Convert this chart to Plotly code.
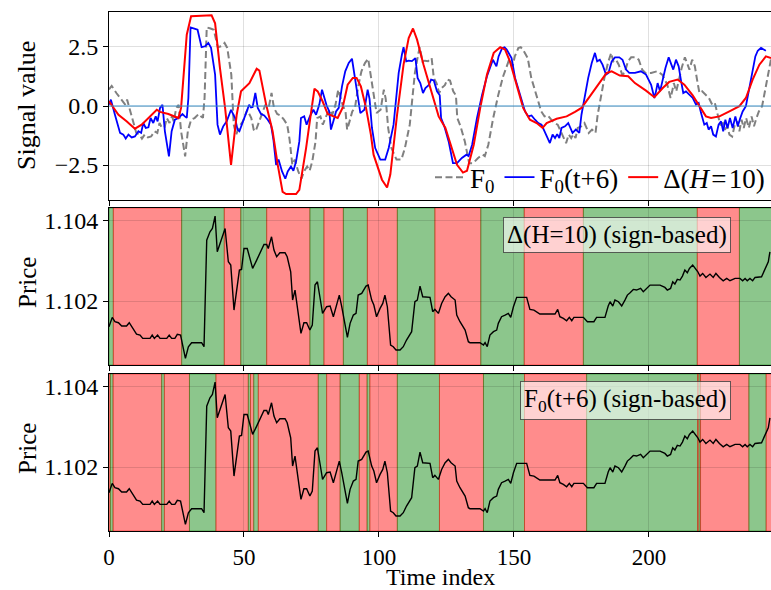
import plotly.graph_objects as go
from plotly.subplots import make_subplots

# ---------------- data ----------------
# Delta(H=10) signal (red)
DELTA_T = [0, 3.5, 6.5, 9.6, 12.1, 14.6, 17.7, 18.9, 22, 25.7, 26.7, 28.8, 30.4, 38, 39.3, 41.1, 43, 45.2, 47.3,
           48.9, 52, 54.7, 55.7, 58.2, 60.6, 62.5, 64.3, 65.6, 69.3, 70.5, 73, 74.8, 76.1, 77.3, 79.1, 81, 82.8,
           84.7, 86.5, 88.4, 90.3, 91.7, 93.3, 95.2, 97, 98, 101.1, 103, 104.2, 106.7, 109.1, 111, 112.6, 114.1,
           116.5, 120.3, 122.1, 124.6, 127, 128.9, 131.1, 132.6, 135.1, 137.5, 140, 142.5, 144.9, 146.7, 148.5,
           151, 153.4, 155.9, 158.4, 160.6, 162.1, 165.8, 169.5, 172.6, 175, 178.1, 181.8, 184.3, 186.2, 189.2,
           192.3, 194.8, 198.9, 202, 205.1, 207.5, 210.6, 213.1, 216.2, 218.7, 221.1, 223, 226.1, 229.8, 233.5,
           235.9, 238.4, 240.9, 243.3, 245.2]
DELTA_V = [0.2, -0.37, -0.65, -0.96, -0.79, -0.51, -0.16, -0.25, -0.34, -0.51, -0.08, 3.02, 3.8, 3.84, 3.5, 1.6,
           -0.08, -2.49, -0.37, 0.62, 0.97, 1.58, 1.5, 0.06, -1.07, -2.49, -3.64, -3.73, -3.73, -3.55, -1.78, -0.3,
           0.73, 0.62, 0.2, -0.34, -0.44, -0.51, -0.08, 0.9, 1.19, 1.19, 0.83, -0.08, -1.21, -2.06, -3.12, -3.45,
           -2.9, -0.37, 1.75, 2.88, 3.28, 2.81, 1.75, 0.2, -0.44, -0.93, -1.78, -2.49, -2.82, -2.74, -1.64, -0.08,
           1.33, 2.25, 2.49, 2.39, 1.89, 0.9, -0.08, -0.58, -0.72, -0.93, -0.72, -0.54, -0.44, -0.25, -0.08, 0.41,
           0.97, 1.4, 1.47, 1.29, 1.26, 0.97, 0.65, 0.37, 0.76, 1.02, 1.12, 0.9, 0.45, -0.01, -0.44, -0.51, -0.44,
           -0.23, -0.01, 0.34, 1.12, 1.75, 2.1, 2.03]

# F0 signal (grey dashed): values before t=6, then the rest of the series
F0_HEAD_T = [0, 1.0, 2.8, 4.7]
F0_HEAD_V = [0.7, 0.85, 0.54, 0.25]

# F0(t+6) (blue)
F06_T = [0, 0.7, 2.2, 4.1, 5.3, 6.2, 7.2, 8.4, 9.6, 10.9, 11.9, 12.7, 13.6, 14.6, 15.4, 16.4, 17.3, 18, 18.9,
         19.8, 20.7, 22.2, 23.2, 24.4, 25.7, 27.2, 28.1, 28.8, 29.4, 30.2, 31.6, 32.8, 34.3, 35.6, 36.8, 37.8,
         39.3, 40.2, 41.1, 42.3, 43.6, 45.2, 46.7, 47.6, 48.3, 49.5, 51.4, 51.9, 52.6, 53.2, 54.2, 55.1, 56.3,
         57.5, 58.8, 60, 60.9, 61.9, 62.8, 64.1, 65.3, 66.2, 67.4, 68.3, 69.3, 70.5, 71.1, 72.3, 73.2, 74.4,
         75.7, 76.7, 77.9, 78.9, 79.8, 80.6, 81.6, 82.2, 83.1, 84.1, 85.1, 86.3, 87.5, 88.8, 90, 90.9, 92.1,
         93.1, 94.6, 95.8, 96.5, 97.4, 98.6, 100.5, 102.3, 103.6, 105.4, 106.7, 107.3, 108.5, 109.1, 110.1,
         111, 112.2, 113.5, 114.3, 115.3, 116.3, 117.2, 118.4, 119.3, 120.3, 121.5, 122.5, 123, 124.2, 125.8,
         127.4, 128.9, 130.7, 132.4, 133.2, 134.5, 136.3, 138.2, 140, 142.2, 143.5, 144.3, 145.6, 146.5, 147.3,
         149.1, 150.4, 152.2, 154.1, 155.3, 156.5, 157.8, 159, 160.2, 161.5, 162.7, 163.3, 164.3, 165.2, 166,
         166.8, 167.6, 168.9, 170.1, 171, 171.7, 172.9, 174.2, 175, 176.3, 177.5, 178.8, 180, 180.8, 181.8,
         182.8, 184.1, 185, 186.2, 187.4, 189, 190.2, 191.5, 192.7, 194.8, 197, 198.9, 200.8, 202, 202.6,
         203.2, 204.1, 205.1, 206.1, 207.3, 208.2, 209, 210, 211, 211.9, 212.7, 213.7, 215, 216.2, 217.4,
         218.4, 219.3, 220.5, 221.4, 222.1, 223, 223.8, 224.8, 225.8, 226.7, 227.5, 228.3, 229.1, 230, 231,
         232, 232.9, 233.7, 234.7, 235.9, 237.2, 238.4, 239.4, 240.3, 241.5, 243.3]
F06_V = [0.06, 0.27, -0.37, -1.14, -1.21, -1.38, -1.21, -1.33, -1.29, -1.07, -1.14, -0.72, -0.93, -0.9, -0.51,
         -0.72, -0.44, -0.65, -0.08, 0.05, -1.07, -2.13, -1.07, -0.58, -0.51, -0.34, -0.44, -0.5, 0.34, 3.33,
         3.28, 3.23, 2.49, 2.53, 2.67, 2.46, 1.33, -0.79, -1.21, -0.86, -0.65, -0.16, -0.51, -1.0, -1.07, -0.72,
         -0.08, 0.05, -0.06, -0.04, 0.55, -0.08, -0.34, -0.4, -0.58, -0.79, -1.43, -2.49, -2.27, -2.77, -3.08,
         -2.77, -2.56, -2.74, -2.34, -1.5, -0.51, -0.44, -0.79, -0.44, -0.16, -0.37, 0.06, 0.69, 0.34, 0.02,
         -0.23, -1.0, -0.65, -0.23, -0.08, 0.83, 1.47, 1.82, 2.0, 1.33, 0.62, -0.3, -0.16, 0.69, 0.3, -0.93,
         -1.78, -2.27, -2.27, -1.78, -0.79, 0.62, 1.4, 2.18, 2.49, 1.89, 1.92, 1.9, 2.03, 1.19, 0.97, 0.55, 0.76,
         0.88, 1.12, 1.08, 0.62, 0.45, -0.51, -0.86, -1.5, -2.42, -2.42, -2.2, -2.06, -2.12, -1.64, -0.51, 0.48,
         1.26, 1.96, 1.68, 2.1, 2.45, 2.49, 2.39, 2.03, 1.19, 0.45, -0.23, -0.44, -0.4, -0.58, -0.72, -0.79,
         -1.14, -1.43, -1.57, -1.21, -1.36, -1.19, -1.36, -0.93, -0.86, -0.72, -0.93, -1.14, -1.0, -1.14, -0.37,
         0.48, 1.19, 1.82, 2.25, 1.89, 1.96, 1.75, 1.33, 1.4, 1.89, 2.06, 2.06, 1.96, 1.54, 1.4, 1.4, 1.47, 1.33,
         0.9, 0.34, 0.62, 0.97, 0.62, 1.12, 1.61, 2.06, 1.82, 1.54, 1.96, 1.68, 1.05, 0.55, 0.62, 0.48, 0.34,
         0.06, 0.13, -0.3, -0.79, -0.72, -1.0, -0.86, -1.21, -1.29, -0.79, -0.65, -1.07, -0.58, -0.93, -0.51,
         -0.93, -0.44, -0.86, -0.55, -0.23, -0.01, 0.76, 1.47, 2.1, 2.34, 2.46, 2.34]

# Price
PRICE_T = [0, 1.2, 2.2, 3.5, 4.7, 6.5, 7.5, 9, 10.2, 11.5, 12.5, 15.2, 16, 16.8, 18, 18.9, 21.4, 22.3, 23.2, 24.4,
           25.3, 26.5, 27.3, 28.3, 29.4, 30.6, 34.3, 35.2, 36.2, 37.4, 38.3, 39.3, 40.1, 41.4, 43, 44.2, 45.1,
           46.3, 47.3, 48.3, 49.1, 50, 51.2, 53.2, 54.7, 55.9, 57.4, 58.4, 59, 60.2, 61.1, 62.1, 63.3, 65.2, 66,
           67.3, 68, 68.9, 70.1, 71.1, 72.2, 73.2, 74.4, 75.3, 76.3, 77.2, 78.1, 79.1, 80.6, 81.9, 83.1, 84.1,
           85.3, 86.2, 87.4, 88.3, 89.3, 90.5, 91.5, 92.3, 93.6, 95.2, 96, 97.3, 98.1, 99.1, 100.4, 101.4, 102.2,
           103.1, 104.3, 105.3, 106.3, 107.8, 109, 110.2, 112.1, 113.3, 114.2, 115.2, 116.2, 118.9, 119.9, 120.7,
           122, 123.2, 124.5, 125.7, 126.7, 128.2, 128.8, 130, 131.9, 133.1, 133.7, 137.4, 138.7, 139.3, 140.1,
           141.1, 142.4, 143.6, 144.2, 145.4, 146.7, 147.9, 148.8, 149.8, 151, 154.7, 155.9, 157.4, 159.6, 165.2,
           166.2, 167, 168.3, 169.5, 170.5, 171.4, 172.2, 175.7, 177.2, 179.6, 180.6, 183.7, 184.9, 185.6, 186.6,
           187.4, 188.7, 189.9, 191.1, 192, 193, 194.2, 195.4, 196.9, 197.9, 199.1, 200.4, 204.1, 205.9, 206.8,
           208, 208.8, 209.6, 210.5, 211.5, 212.4, 213.3, 214.2, 215, 216.2, 217.1, 218.1, 218.9, 219.9, 221.1,
           222.6, 223.8, 224.8, 226.1, 227.5, 228.8, 230, 231.9, 233.7, 234.7, 235.6, 236.4, 237.4, 238.4, 239.3,
           241.7, 243, 244.2, 244.8]
PRICE_V = [1.101366, 1.101597, 1.10149, 1.101465, 1.101383, 1.101383, 1.101465, 1.101325, 1.101185, 1.10116,
           1.101078, 1.101078, 1.10116, 1.101078, 1.10116, 1.101078, 1.101078, 1.10116, 1.101078, 1.101078,
           1.101177, 1.10116, 1.100914, 1.100584, 1.100872, 1.100971, 1.100971, 1.100872, 1.103506, 1.103712,
           1.103794, 1.104099, 1.103218, 1.103465, 1.103794, 1.102971, 1.102889, 1.101778, 1.102313, 1.102765,
           1.102782, 1.1033, 1.1033, 1.102807, 1.103012, 1.103177, 1.103399, 1.103399, 1.1033, 1.103588,
           1.103259, 1.103095, 1.103193, 1.103193, 1.103095, 1.102724, 1.102025, 1.102272, 1.101613, 1.101202,
           1.101465, 1.101465, 1.101284, 1.101407, 1.102395, 1.102477, 1.102107, 1.101695, 1.10186, 1.101877,
           1.101613, 1.10186, 1.102148, 1.10186, 1.101407, 1.101103, 1.101449, 1.101654, 1.101695, 1.102148,
           1.102189, 1.10237, 1.102395, 1.102025, 1.101901, 1.101613, 1.101819, 1.101942, 1.102148, 1.10186,
           1.100914, 1.100872, 1.10079, 1.10079, 1.100872, 1.101037, 1.101243, 1.101984, 1.102025, 1.10237,
           1.102107, 1.102091, 1.101737, 1.101794, 1.101695, 1.101942, 1.102107, 1.102189, 1.102107, 1.102025,
           1.101654, 1.10149, 1.101284, 1.100996, 1.100971, 1.100971, 1.100914, 1.100971, 1.100872, 1.10116,
           1.101243, 1.101284, 1.101449, 1.101613, 1.101654, 1.101695, 1.101597, 1.10186, 1.102091, 1.102091,
           1.101794, 1.101778, 1.101679, 1.101679, 1.101794, 1.101613, 1.101572, 1.101514, 1.101597, 1.101514,
           1.101597, 1.101597, 1.10149, 1.10149, 1.101597, 1.101597, 1.101877, 1.101984, 1.101877, 1.102025,
           1.101984, 1.101877, 1.102025, 1.102148, 1.102206, 1.102288, 1.102272, 1.102313, 1.10223, 1.102313,
           1.102395, 1.102395, 1.102337, 1.102272, 1.102313, 1.102477, 1.10242, 1.102535, 1.102519, 1.102617,
           1.102765, 1.1027, 1.102807, 1.102889, 1.102807, 1.102724, 1.102617, 1.102683, 1.102584, 1.102667,
           1.102584, 1.102683, 1.102584, 1.102502, 1.10256, 1.102502, 1.10256, 1.10256, 1.102502, 1.10256,
           1.102502, 1.10256, 1.102502, 1.102584, 1.1026, 1.102807, 1.102971, 1.103218]

# sign-based regimes: (start, end, sign)
REGIME_DELTA_START = [0, 1.6, 26.9, 42.7, 48.8, 58.4, 74.4, 79.6, 86.8, 95.7, 106.8, 120.7, 137.7, 153.8, 175.7,
                      217.9, 233.5]
REGIME_DELTA_END = [1.6, 26.9, 42.7, 48.8, 58.4, 74.4, 79.6, 86.8, 95.7, 106.8, 120.7, 137.7, 153.8, 175.7,
                    217.9, 233.5, 246]
REGIME_DELTA_SIGN = [1, -1, 1, -1, 1, -1, 1, -1, 1, -1, 1, -1, 1, -1, 1, -1, 1]

REGIME_F06_START = [0, 0.5, 1.5, 19.5, 20.5, 29.8, 39.6, 51.6, 52.4, 53.6, 55.3, 77.5, 80.6, 85.6, 92.7, 95.6,
                    96.6, 106.8, 122.4, 138.7, 153.9, 176.9, 218.0, 218.5, 219.1, 237.0, 243.4]
REGIME_F06_END = [0.5, 1.5, 19.5, 20.5, 29.8, 39.6, 51.6, 52.4, 53.6, 55.3, 77.5, 80.6, 85.6, 92.7, 95.6, 96.6,
                  106.8, 122.4, 138.7, 153.9, 176.9, 218.0, 218.5, 219.1, 237.0, 243.4, 246]
REGIME_F06_SIGN = [-1, 1, -1, 1, -1, 1, -1, 1, -1, 1, -1, 1, -1, 1, -1, 1, -1, 1, -1, 1, -1, 1, -1, 1, -1, 1, -1]

X_TICKS = [0, 50, 100, 150, 200]
SIG_TICKS = [-2.5, 0.0, 2.5]
SIG_TICK_TEXT = ["\u22122.5", "0.0", "2.5"]
PRICE_TICKS = [1.102, 1.104]
PRICE_TICK_TEXT = ["1.102", "1.104"]

LAG = 6
F0_T = F0_HEAD_T + [t + LAG for t in F06_T]
F0_V = F0_HEAD_V + F06_V

# ---------------- figure ----------------
FONT = "Liberation Serif, Times New Roman, DejaVu Serif, serif"
W, H = 771, 590
L, R, T, B = 109, 0, 12, 59
PH = H - T - B


def dom(top_px, bot_px):
    return [(H - B - bot_px) / PH, (H - B - top_px) / PH]


fig = make_subplots(rows=3, cols=1, shared_xaxes=True)

fig.add_trace(go.Scatter(x=F0_T, y=F0_V, mode="lines", name="F<sub>0</sub>",
                         line=dict(color="#808080", width=2, dash="7px,3.5px")), row=1, col=1)
fig.add_trace(go.Scatter(x=F06_T, y=F06_V, mode="lines", name="F<sub>0</sub>(t+6)",
                         line=dict(color="#0000ff", width=1.8)), row=1, col=1)
fig.add_trace(go.Scatter(x=DELTA_T, y=DELTA_V, mode="lines", name="\u0394(<i>H</i>\u200a=\u200a10)",
                         line=dict(color="#ff0000", width=2)), row=1, col=1)

for r in (2, 3):
    fig.add_trace(go.Scatter(x=PRICE_T, y=PRICE_V, mode="lines", showlegend=False,
                             line=dict(color="black", width=1.4)), row=r, col=1)

GREEN = "rgba(0,128,0,0.45)"
RED = "rgba(255,0,0,0.45)"
for starts, ends, signs, ax in ((REGIME_DELTA_START, REGIME_DELTA_END, REGIME_DELTA_SIGN, "2"),
                                (REGIME_F06_START, REGIME_F06_END, REGIME_F06_SIGN, "3")):
    for s, e, g in zip(starts, ends, signs):
        c = GREEN if g > 0 else RED
        fig.add_shape(type="rect", xref="x" + ax, yref="y" + ax + " domain", x0=s, x1=e, y0=0, y1=1,
                      fillcolor=c, line=dict(color=c, width=1), layer="below")

# zero line on signal panel
fig.add_shape(type="line", xref="x domain", yref="y", x0=0, x1=1, y0=0, y1=0,
              line=dict(color="#3b8fc7", width=1.2), layer="above")

axis_common = dict(showline=True, linecolor="black", linewidth=1, ticks="outside", ticklen=5,
                   tickcolor="black", tickwidth=1, showgrid=True, gridcolor="rgba(0,0,0,0.12)", gridwidth=1,
                   zeroline=False)
XTICK_FONT = dict(family=FONT, size=23, color="black")
YTICK_FONT = dict(family=FONT, size=24, color="black")

fig.update_layout(
    width=W, height=H, margin=dict(l=L, r=R, t=T, b=B, pad=0),
    paper_bgcolor="white", plot_bgcolor="white",
    font=dict(family=FONT, color="black"),
    showlegend=True,
    legend=dict(orientation="h", x=(430 - L) / (W - L), xanchor="left", y=dom(12, 200)[0] - 0.004,
                yanchor="bottom", bgcolor="rgba(255,255,255,0)", borderwidth=0,
                font=dict(family=FONT, size=27, color="black"), itemwidth=30, tracegroupgap=0),
)

for i, (top, bot) in enumerate(((12, 200), (208, 365), (374, 531)), start=1):
    fig.update_layout(**{
        f"yaxis{'' if i == 1 else i}": dict(domain=dom(top, bot), tickfont=YTICK_FONT, **axis_common),
        f"xaxis{'' if i == 1 else i}": dict(range=[0, 245.2], tickvals=X_TICKS, mirror=True,
                                            showticklabels=(i == 3), tickfont=XTICK_FONT, **axis_common),
    })

fig.update_yaxes(range=[-3.98, 3.98], tickvals=SIG_TICKS, ticktext=SIG_TICK_TEXT, row=1, col=1)
fig.update_yaxes(range=[1.10042, 1.10430], tickvals=PRICE_TICKS, ticktext=PRICE_TICK_TEXT, row=2, col=1)
fig.update_yaxes(range=[1.10042, 1.10430], tickvals=PRICE_TICKS, ticktext=PRICE_TICK_TEXT, row=3, col=1)


def px_x(px):
    return (px - L) / (W - L)


def px_y(py):
    return (H - B - py) / PH


for text, yc, sz in (("Signal value", 106, 26), ("Price", 283, 25), ("Price", 449, 25)):
    fig.add_annotation(text=text, xref="paper", yref="paper", x=px_x(27), y=px_y(yc), textangle=-90,
                       showarrow=False, font=dict(family=FONT, size=sz, color="black"),
                       xanchor="center", yanchor="middle")
fig.add_annotation(text="Time index", xref="paper", yref="paper", x=0.5, y=px_y(577), showarrow=False,
                   font=dict(family=FONT, size=24, color="black"), xanchor="center", yanchor="middle")

for text, ax, ytop in (("\u0394(H=10) (sign-based)", "2", 0.945), ("F<sub>0</sub>(t+6) (sign-based)", "3", 0.955)):
    fig.add_annotation(text=text, xref="x" + ax + " domain", yref="y" + ax + " domain", x=0.94, y=ytop,
                       xanchor="right", yanchor="top", showarrow=False,
                       font=dict(family=FONT, size=25, color="black"),
                       bgcolor="rgba(255,255,255,0.6)", bordercolor="rgba(60,60,60,0.8)", borderwidth=1,
                       borderpad=3)

fig.write_html("out.html")
